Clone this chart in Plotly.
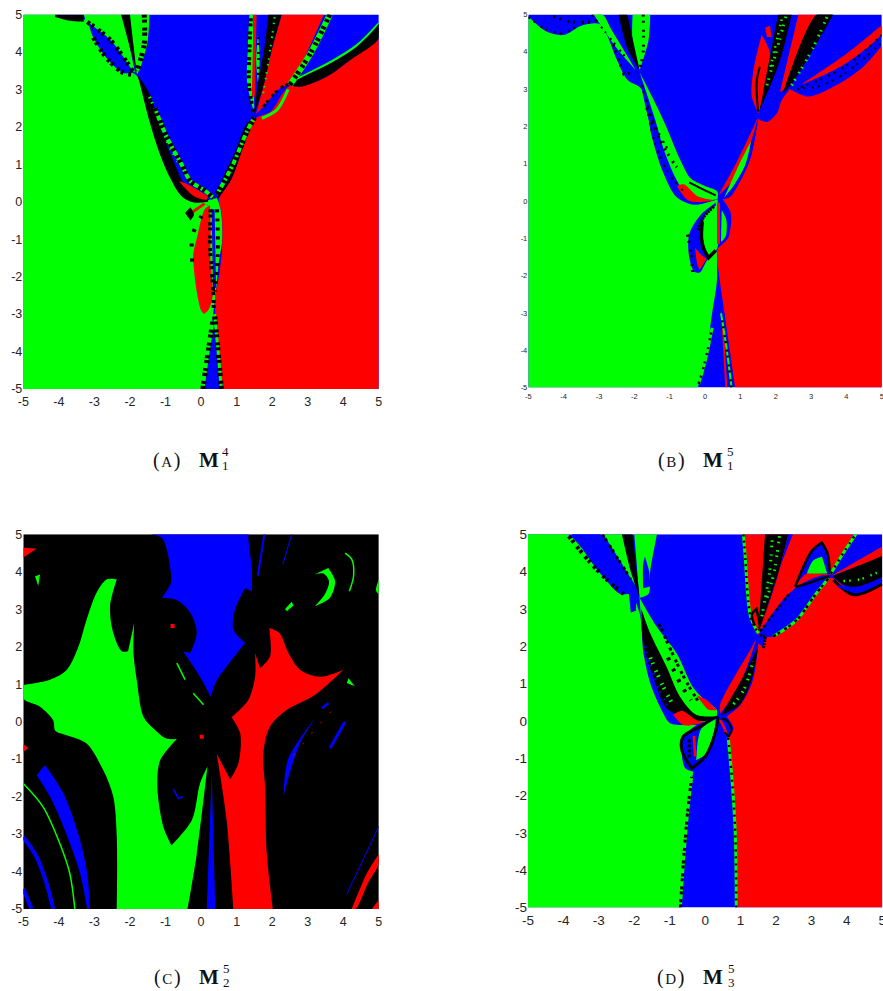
import math
import plotly.graph_objects as go

TICK_VALUES = [-5, -4, -3, -2, -1, 0, 1, 2, 3, 4, 5]
TICK_LABELS = ["-5", "-4", "-3", "-2", "-1", "0", "1", "2", "3", "4", "5"]
FULL = [(-5, -5), (5, -5), (5, 5), (-5, 5)]

# ---------- Panel A: region outlines (x, y in chart units)
A_GREEN = [(-5,-5),(0.03,-5),(0.2,-4),(0.34,-3),(0.42,-2.4),(0.5,-1.6),(0.6,-1),(0.55,-0.2),(0.45,0.1),(0.2,0.05),(-0.2,0.02),(-0.5,0.15),(-0.8,0.6),(-1.15,1.3),(-1.45,2.2),(-1.75,3.3),(-2,3.5),(-2.4,3.75),(-2.8,4.3),(-3.2,4.85),(-3.5,4.85),(-4.1,4.95),(-4,5),(-5,5)]
A_GREEN_UPPER = [(-3.3,5),(-2.2,5),(-1.85,3.45),(-2.5,3.9),(-3.2,4.75)]
A_BLUE_LENS = [(-3.17,4.78),(-2.56,4.33),(-2.04,3.66),(-1.9,3.45),(-2.19,3.44),(-2.66,3.84),(-3.03,4.38)]
A_RED = [(0.62,-5),(0.5,-4),(0.4,-3),(0.4,-2.5),(0.5,-2),(0.57,-1.5),(0.6,-1),(0.58,-0.3),(0.5,0.05),(0.85,0.6),(1.2,1.5),(1.5,2.2),(1.95,2.4),(2.3,2.9),(2.5,3.1),(2.78,3.07),(3.53,3.34),(4.19,3.78),(5,4.36),(5,-5)]
A_RED_WEDGE = [(1.55,2.35),(1.75,3.07),(1.99,4.05),(2.27,5),(3.45,5),(2.5,3.15),(2.22,3.03),(1.75,2.54)]
A_RED_LENS = [(-0.22,-1.4),(-0.1,-0.9),(0.1,-0.2),(0.25,-0.1),(0.27,-0.7),(0.26,-1.5),(0.33,-2.5),(0.2,-2.9),(0.08,-3),(0,-2.9),(-0.12,-2.4),(-0.2,-1.8)]
A_RED_TIP = [(-0.62,0.55),(-0.45,0.5),(0.2,0.15),(0.15,0.05),(-0.2,0.15)]
A_RED_THIN = [(-0.28,-0.3),(0.1,-0.05)]
A_RED_TOP = [(1.52,5),(1.47,2.8)]
A_GREEN_TOP = [(-2.15,5),(-1.45,5),(-1.5,4.3),(-1.7,3.6),(-1.8,3.4),(-2,4.2)]
A_BLACK_TOP = [(-2.25,5),(-2.0,5),(-1.8,3.4),(-2.05,4.3)]
A_BLACK_RIGHT = [(1.89,5),(2.27,5),(1.99,4.05),(1.75,3.07),(1.51,2.36),(1.56,2.9),(1.8,4.23)]
A_BLACK_ARC = [(-1.8,3.4),(-1.45,2.9),(-1.15,2),(-0.8,1.15),(-0.55,0.6),(-0.25,0.2),(0.2,0.08),(0.2,0),(-0.2,-0.02),(-0.55,0.15),(-0.85,0.6),(-1.15,1.25),(-1.45,2.15),(-1.75,3.25)]
A_BLACK_UP = [(0.45,0.05),(0.85,0.6),(1.2,1.5),(1.5,2.2),(1.3,2.1),(0.95,1.3),(0.65,0.7)]
A_BLUE_STRIPE = [(0.34,-0.2),(0.38,-2.3)]
A_GREEN_BAND1 = [(1.36,5),(1.32,4.2),(1.3,3.16),(1.5,2.36),(1.47,5)]
A_GREEN_BAND2 = [(1.6,4.45),(1.65,3.8),(1.6,3.15),(1.55,3.8)]
A_SPECK1 = [(1.4,4.9),(1.36,4),(1.35,3.1),(1.47,2.4)]
A_SPECK2 = [(-3.2,4.8),(-2.56,4.33),(-2.04,3.66),(-1.9,3.45)]
A_SPECK3 = [(-3.03,4.38),(-2.66,3.84),(-2.19,3.44),(-1.9,3.4)]
A_SPECK4 = [(-1.6,5),(-1.6,4.2),(-1.8,3.5)]
A_SPECK5 = [(-1.3,2.5),(-0.95,1.7),(-0.55,1),(-0.3,0.55),(0.1,0.3),(0.35,0.1)]
A_SPECK6 = [(0.05,-5),(0.2,-4),(0.33,-3.2)]
A_SPECK7 = [(0.57,-5),(0.48,-4),(0.38,-3)]
A_SPECK8 = [(0.27,-0.2),(0.25,-1.2),(0.33,-2.2),(0.36,-2.9)]
A_SPECK9 = [(-0.25,-1.6),(-0.24,-0.9),(0,-0.4),(0.2,-0.1)]
A_SPECK10 = [(0.45,-0.2),(0.47,-1.4),(0.38,-2.4)]
A_SPECK11 = [(0.45,0.2),(0.9,1),(1.3,1.9),(1.5,2.25)]
A_SPECK12 = [(3.62,5),(3.1,4),(2.5,3.12)]
A_SPECK13 = [(1.75,2.54),(2.22,3.03),(2.5,3.15)]
A_SPECK14 = [(1.61,4.4),(1.62,3.8),(1.61,3.16)]
A_LENS_LOW = [(1.71,2.23),(2.13,2.45),(2.45,3)]
A_BLACK_BAND = [(2.5,3.12),(2.78,3.07),(3.53,3.34),(4.19,3.78),(5,4.36),(5,4.75),(4.9,4.63),(4.38,4.14),(3.72,3.74),(2.69,3.25)]
A_BLACK_BLOB = [(-0.45,-0.3),(-0.3,-0.15),(-0.2,-0.35),(-0.3,-0.5)]
A_BLACK_TOPLEFT = [(-4.1,5),(-3.3,5),(-3.3,4.8),(-3.7,4.83),(-4.1,4.93)]
A_GREEN_EDGE = [(2.69,3.27),(3.72,3.77),(4.38,4.17),(5,4.76)]
A_DOTS_GREEN = [(-1.45,2.8),(-1.15,2.1),(-0.9,1.5),(-0.6,1.0)]
A_DOTS_BAND = [(1.75,2.9),(1.95,4.1),(2.08,5)]

# ---------- Panel B
B_GREEN = [(-5,-5),(-0.2,-5),(0.05,-4),(0.2,-3),(0.33,-2.2),(0.35,-1.3),(0.42,-0.5),(0.35,0.05),(-0.3,-0.1),(-0.8,0.1),(-1.2,0.8),(-1.5,1.7),(-1.8,3),(-2.2,3.25),(-2.5,3.8),(-2.8,4.5),(-3,4.75),(-3.5,4.7),(-4,4.45),(-4.5,4.55),(-5,4.95)]
B_RED = [(0.85,-5),(0.7,-4),(0.55,-3),(0.4,-2),(0.35,-1.3),(0.55,-1.1),(0.72,-0.7),(0.72,-0.3),(0.5,0.05),(0.7,0.1),(1,0.55),(1.3,1.2),(1.5,2.2),(1.75,2.12),(2.03,2.35),(2.17,2.7),(2.4,3),(2.92,2.8),(3.72,3.11),(4.48,3.6),(5,4.16),(5,-5)]
B_GREEN_BAND = [(-1.85,3.45),(-1.5,2.8),(-1.1,2),(-0.7,1.1),(-0.4,0.6),(0,0.4),(0.35,0.25),(0.35,0.05),(-0.3,0.02),(-0.7,0.4),(-1.1,1.2),(-1.45,2.3)]
B_BLUE_BAND = [(-1.85,3.3),(-1.6,2.2),(-1.25,1.1),(-0.85,0.2),(-0.65,0.15),(-1,0.9),(-1.4,2),(-1.7,3)]
B_RED_LEFT = [(-0.8,0.4),(-0.6,0.45),(-0.2,0.12),(0.3,0.02),(-0.2,-0.03),(-0.5,0.03)]
B_FLOWER_BLUE = [(0.3,-0.05),(-0.15,-0.4),(-0.45,-0.9),(-0.45,-1.5),(-0.3,-1.9),(-0.15,-1.92),(0.05,-1.6),(0.35,-1.3)]
B_FLOWER_GREEN = [(0.33,-0.1),(0,-0.4),(-0.1,-0.9),(-0.03,-1.3),(0.12,-1.55),(0.35,-1.25),(0.38,-0.6)]
B_FLOWER_RED = [(-0.28,-1.25),(-0.22,-1.7),(-0.15,-1.85),(0.05,-1.55),(-0.1,-1.45)]
B_ARC = [(-0.08,-0.55),(-0.1,-1),(-0.03,-1.3),(0.1,-1.52),(0.3,-1.33)]
B_ARC2 = [(0.25,-0.15),(-0.05,-0.45),(-0.2,-0.8)]
B_RLOOP_BLUE = [(0.4,-0.05),(0.62,-0.2),(0.72,-0.55),(0.65,-1),(0.4,-1.2)]
B_RLOOP_GREEN = [(0.47,-0.25),(0.6,-0.5),(0.58,-0.95),(0.45,-1.1)]
B_RED_STRIPE = [(0.38,-0.05),(0.38,-1.15)]
B_RED_CENTER = [(0.38,0.15),(0.9,1.05),(1.5,2.25),(1.2,1.3),(0.75,0.5)]
B_GREEN_CENTER = [(0.55,0.1),(0.95,0.95),(1.3,1.6),(1.15,1),(0.8,0.4)]
B_BLUE_CENTER = [(0.65,0.15),(1.05,0.75),(1.35,1.55),(1.5,2.2),(1.3,1.2),(1,0.55)]
B_SPECK1 = [(-1.65,2.5),(-1.4,1.5),(-1,0.7),(-0.6,0.25)]
B_SPECK2 = [(-1.8,3.1),(-1.4,2),(-1,1.3)]
B_SPECK3 = [(-1.65,2.5),(-1.2,1.5),(-0.8,0.9)]
B_BLACK_DASH = [(-0.45,0.5),(-0.1,0.33),(0.3,0.15)]
B_RED_LENS = [(1.51,2.35),(1.32,2.8),(1.37,3.51),(1.6,4.45),(1.84,3.96),(1.65,2.8)]
B_LENS_BLACK = [(1.5,2.4),(1.46,3.2),(1.55,3.6)]
B_RED_SMALL = [(1.7,4.65),(1.84,4.7),(1.88,4.4),(1.75,4.4)]
B_BAND_UP = [(1.55,2.45),(2.07,5),(2.45,5),(2.1,3.7)]
B_GREEN_IN_BAND = [(1.75,3.1),(2.1,4.3),(2.3,5)]
B_GREEN_IN_BAND2 = [(1.85,3.6),(2.05,4.4),(2.2,5)]
B_RED_WEDGE = [(2.12,2.93),(2.64,5),(3.16,5),(2.21,2.97)]
B_BAND_RIGHT = [(2.21,2.9),(3.16,5),(3.63,5),(2.5,3.2)]
B_GREEN_IN_RIGHT = [(2.45,3.1),(3.05,4.1),(3.48,5)]
B_RED_STRIPE2 = [(2.69,3.11),(4,3.95),(5,4.72),(5,4.5),(4,3.7),(3.25,3.33)]
B_BLACK_FAR1 = [(2.7,3.05),(3.25,3.25),(4,3.63),(5,4.45)]
B_BLACK_FAR2 = [(2.6,3.0),(3.3,3.1),(4,3.45),(5,4.25)]
B_TOP_GREEN_L = [(-3.15,5),(-2.9,5),(-2.65,4.6),(-1.95,3.5),(-2.5,4.1)]
B_TOP_GREEN_M = [(-2.05,5),(-1.55,5),(-1.6,4.3),(-1.85,3.5),(-2.05,4.3)]
B_TOP_BLACK = [(-2.45,5),(-2.2,5),(-1.85,3.5),(-2.2,4.1)]
B_SPECK6 = [(-5,4.93),(-4.5,4.6),(-4,4.5),(-3.6,4.7)]
B_SPECK7 = [(-4.3,4.95),(-3.8,4.8),(-3.2,4.8)]
B_SPECK8 = [(-3.2,5),(-2.8,4.5),(-2.2,3.8)]
B_SPECK9 = [(-1.75,5),(-1.75,4),(-1.85,3.5)]
B_SPECK10 = [(-2.6,4.2),(-2.3,3.4),(-1.9,3.45)]
B_SPECK11 = [(-0.18,-4.9),(0.0,-4.3),(0.2,-3.4)]
B_SPECK12 = [(0.75,-5),(0.6,-3.9),(0.45,-3)]
B_SPECK13 = [(-0.5,-0.9),(-0.4,-1.4),(-0.35,-2)]
B_RED_BOTTOM = [(0.6,-5),(0.5,-3.3)]

# ---------- Panel C
C_BLUE = [(-1.45,5),(-1.1,4.9),(-0.85,4),(-0.85,3.7),(-1.1,3.3),(-0.7,3.25),(-0.3,2.9),(-0.12,2.37),(-0.3,1.83),(-0.5,1.87),(-0.03,1.2),(0.27,0.67),(0.44,1.1),(0.72,1.47),(1.24,2.1),(0.91,2.45),(0.96,3),(1.24,3.57),(1.43,3.48),(1.43,4.06),(1.33,4.95),(1.35,5)]
C_GREEN = [(-2.37,3.8),(-2.65,3.8),(-2.94,3.44),(-3.22,2.72),(-3.45,2),(-3.78,1.38),(-4.25,1.12),(-5,0.98),(-5,0.62),(-4.53,0.4),(-4.16,0.04),(-4.1,-0.24),(-3.78,-0.36),(-3.22,-0.58),(-2.75,-1.3),(-2.47,-2),(-2.37,-3.08),(-2.37,-5),(-0.38,-5),(-0.12,-3.53),(0.18,-1.2),(-0.03,-1.65),(-0.26,-2.63),(-0.83,-3.3),(-1.06,-2.81),(-1.23,-1.74),(-1.15,-1.03),(-0.68,-0.46),(-0.97,-0.45),(-1.34,-0.18),(-1.62,0.13),(-1.81,1.12),(-1.9,1.83),(-1.88,2.63),(-2.05,1.88),(-2.23,1.88),(-2.47,2.37),(-2.56,3.08)]
C_RED = [(0.91,-5),(2.02,-5),(1.85,-3.53),(1.8,-1.74),(1.75,-0.85),(1.94,-0.13),(2.41,0.31),(3.2,0.71),(4,1.38),(3.35,1.2),(2.79,1.38),(2.46,1.83),(2.2,2.37),(1.92,2.5),(1.94,1.74),(1.66,1.43),(1.52,1.83),(1.52,1.2),(1.33,0.58),(0.86,0.12),(1.1,-0.31),(1.05,-1.12),(0.82,-1.54),(0.44,-0.85),(0.72,-2.63)]
C_BLUE_SLIVER = [(0.16,-5),(0.4,-5),(0.3,-1.38)]
C_BLUE_LEFT = [(-4.62,-1.43),(-4.39,-1.16),(-3.87,-1.92),(-3.4,-3.17),(-3.2,-4.06),(-3.12,-5),(-3.2,-5),(-3.4,-4.06),(-3.83,-2.9),(-4.25,-2)]
C_GREEN_LINE = [(-5,-1.65),(-4.44,-2.28),(-3.97,-3.26),(-3.69,-4.06),(-3.55,-5)]
C_BLUE_LINE1 = [(-5,-3.08),(-4.62,-3.62),(-4.34,-4.33),(-4.16,-5)]
C_BLUE_LINE2 = [(-5,-4.46),(-4.77,-5)]
C_RED_TL = [(-5,4.64),(-4.62,4.62),(-5,4.38)]
C_GREEN_TL = [(-4.67,3.88),(-4.53,3.93),(-4.58,3.62)]
C_RED_L = [(-5,-0.6),(-4.85,-0.7),(-5,-0.8)]
C_RED_DOTS_X = [-0.8, 0.02]
C_RED_DOTS_Y = [2.55, -0.4]
C_GREEN_S1 = [(-0.68,1.56),(-0.45,1.12)]
C_GREEN_S2 = [(-0.22,0.76),(0.07,0.45)]
C_BLUE_CURL = [(-0.78,-1.79),(-0.64,-2.05),(-0.5,-2)]
C_GREEN_CRES = [(3.2,3.08),(3.62,3.3),(3.77,3.75),(3.58,4.1),(3.2,3.93),(3.45,3.95),(3.6,3.75),(3.48,3.4)]
C_GREEN_SPOT = [(2.36,3),(2.55,3.2),(2.6,3.1),(2.42,2.95)]
C_GREEN_R = [(4.05,4.5),(4.24,4.33),(4.29,3.88),(4.17,3.48)]
C_GREEN_R2 = [(4.1,1.03),(4.15,1.16),(4.33,0.94)]
C_GREEN_EDGE = [(5,3.4),(4.92,3.5),(5,3.8)]
C_BLUE_R1 = [(2.32,-2),(2.45,-1),(3.2,0.09),(2.8,-0.55),(2.55,-1.2)]
C_BLUE_R2 = [(3.63,-0.71),(4.05,0)]
C_BLUE_R3 = [(3.4,0.36),(3.58,0.49)]
C_RED_BR = [(4.24,-5),(4.66,-4.06),(5,-3.53),(5,-3.8),(4.7,-4.3),(4.35,-5)]
C_RED_CORNER = [(4.8,-5),(5,-4.75),(5,-5)]
C_BLUE_THIN = [(4.1,-4.6),(4.6,-3.6),(5,-2.8)]
C_BLUE_TOP1 = [(1.78,5),(1.6,3.9)]
C_BLUE_TOP2 = [(2.55,5),(2.3,4.2)]
C_RED_THIN = [(2.6,-0.9),(3.3,-0.1),(3.9,0.5)]

# ---------- Panel D
D_GREEN = [(-5,-5),(-0.7,-5),(-0.61,-3.55),(-0.47,-2.03),(-0.33,-1.36),(-0.56,-1.27),(-0.66,-0.78),(-0.52,-0.33),(-0.24,-0.11),(-0.62,-0.11),(-0.99,-0.06),(-1.18,0.2),(-1.55,1.01),(-1.74,1.81),(-1.85,2.89),(-2.1,3.38),(-2.4,3.4),(-2.96,3.95),(-3.9,5),(-5,5)]
D_RED = [(0.94,-5),(0.85,-2.65),(0.75,-1.58),(0.66,-0.42),(0.8,-0.2),(0.61,0.12),(1,0.43),(1.35,1.1),(1.5,2.08),(1.65,1.95),(1.74,2.26),(2.58,2.7),(3.1,3.37),(3.48,3.82),(3.62,3.82),(4.27,3.38),(5,3.67),(5,-5)]
D_RED_UP = [(1.5,2.3),(1.32,2.7),(1.13,4.49),(1.08,5),(4.18,5),(3.52,3.91),(3.3,3.9),(2.6,3.6),(2,3)]
D_BLUE_HUMP = [(2.54,3.6),(3,4.54),(3.29,4.78),(3.45,4.5),(3.52,3.91),(2.87,3.95)]
D_HUMP_GREEN = [(2.87,3.95),(3.05,4.3),(3.3,4.4),(3.45,3.95)]
D_BLUE_LENS = [(1.5,2.3),(2.39,3.43),(3,3.62),(3.48,3.82),(3.1,3.37),(2.58,2.7),(1.92,2.26)]
D_BLACK_UP = [(1.5,2.35),(1.69,5),(2.35,5),(2.05,3.9)]
D_BLUE_UPEDGE = [(2.35,5),(2.05,3.9),(1.55,2.4),(2.15,4.2),(2.48,5)]
D_GREEN_UP1 = [(1.6,2.8),(1.82,4),(1.9,5)]
D_GREEN_UP2 = [(1.75,3.3),(1.95,4),(2.1,5)]
D_RED_FAR = [(3.55,3.88),(5,4.67),(5,4.4)]
D_BLACK_FAR = [(3.6,3.88),(5,4.42),(5,3.85),(4.3,3.6),(3.9,3.65)]
D_GREEN_FAR = [(3.9,3.75),(4.4,3.8),(5,4.05)]
D_BLUE_FAR = [(3.75,3.62),(4.3,3.48),(5,3.78)]
D_BLACK_LOW = [(3.62,3.78),(4.2,3.38),(5,3.67)]
D_BLUE_TL = [(-3.76,5),(-2.96,5),(-2.07,3.69),(-2.3,3.47)]
D_GREEN_TL = [(-2.87,5),(-2.3,5),(-1.95,3.6)]
D_BLACK_TL = [(-2.35,5),(-2.05,5),(-1.85,3.3),(-2.1,4)]
D_GREEN_TM = [(-2,5),(-1.36,5),(-1.55,4),(-1.6,3.4),(-1.85,3.3)]
D_BLUE_TM = [(-1.75,4.2),(-1.7,4.4),(-1.58,4),(-1.55,3.6),(-1.75,3.55)]
D_BLUE_SMALL = [(-2.15,3.4),(-1.95,3.4),(-1.95,2.95),(-2.1,2.9)]
D_GREEN_BAND = [(-1.85,3.3),(-1.35,2.5),(-0.8,1.8),(-0.33,0.88),(0,0.55),(0.33,0.29),(0.3,0),(-0.2,-0.02),(-0.6,0.1),(-1,0.6),(-1.4,1.4),(-1.75,2.4)]
D_BLACK_ARC = [(-1.8,3.0),(-1.55,2.35),(-1.09,1.45),(-0.71,0.65),(-0.24,0.16),(0.3,0.12),(0.2,0.03),(-0.24,0.0),(-0.7,0.15),(-1.09,0.34),(-1.47,1.18),(-1.75,2.08)]
D_GREEN_IN_ARC = [(-1.55,1.7),(-1.2,0.95),(-0.95,0.5)]
D_BLUE_IN_ARC = [(-1.7,2),(-1.4,1.1),(-1.05,0.35)]
D_RED_A = [(-0.9,0.16),(-0.66,0.27),(-0.24,0.02),(0,-0.02),(-0.24,-0.09),(-0.62,-0.11)]
D_RED_B = [(-0.24,0.69),(0.04,0.56),(0.33,0.29),(0.1,0.3),(-0.1,0.5)]
D_RED_C = [(0.42,0.2),(0.42,0.43),(1.27,1.9),(1.45,2.2),(1.07,1.18),(0.65,0.48)]
D_BLACK_C = [(0.45,0.15),(0.98,0.43),(1.31,1.1),(1.5,2),(1.07,1.18),(0.65,0.48)]
D_GREEN_C = [(0.8,0.45),(1.1,0.85),(1.35,1.6)]
D_BLUE_LOOP = [(0.34,0.1),(-0.15,-0.16),(-0.62,-0.42),(-0.66,-0.78),(-0.38,-1.27),(0,-0.96),(0.28,-0.33)]
D_GREEN_LOOP = [(0.3,0.05),(-0.1,-0.2),(-0.2,-0.5),(-0.25,-1.05),(0,-0.9),(0.25,-0.3)]
D_RED_LOOP = [(-0.32,-0.4),(-0.28,-0.95)]
D_BLUE_PETAL = [(0.4,0.05),(0.6,0.02),(0.75,-0.24),(0.66,-0.42),(0.42,-0.15)]
D_RED_PETAL = [(0.42,0.02),(0.52,-0.15),(0.6,-0.35)]
D_LOOP_LINE = [(0.34,0.1),(-0.15,-0.16),(-0.62,-0.42),(-0.66,-0.78),(-0.38,-1.27),(0,-0.96),(0.28,-0.33),(0.34,0.1)]
D_LOOP_IN = [(-0.45,-0.5),(-0.45,-1)]
D_PETAL_LINE = [(0.45,0.05),(0.6,0.02),(0.75,-0.24),(0.66,-0.42),(0.55,-0.3)]
D_SPECK1 = [(-3.85,4.95),(-3.3,4.3),(-2.8,3.8),(-2.3,3.4)]
D_SPECK2 = [(-2.9,5),(-2.5,4.4),(-2.1,3.8)]
D_SPECK3 = [(-0.7,-5),(-0.6,-3.6),(-0.48,-2.3),(-0.38,-1.5)]
D_SPECK4 = [(0.88,-5),(0.85,-3),(0.76,-1.6),(0.65,-0.45)]
D_SPECK5 = [(1.08,5),(1.13,4.4),(1.28,2.8),(1.5,2.35)]
D_SPECK8 = [(-1.3,2.6),(-0.8,1.55),(-0.5,1),(-0.15,0.45)]
D_SPECK9 = [(-1.05,1.7),(-0.7,1),(-0.4,0.55)]
D_SPECK12 = [(1.92,2.26),(2.58,2.7),(3.1,3.37),(3.48,3.82)]
D_SPECK13 = [(1.55,2.4),(2.39,3.43)]
D_LINE_LENS = [(2.54,3.58),(3,3.72),(3.5,3.88)]
D_SPECK14 = [(2.54,3.6),(3,4.54),(3.29,4.78),(3.45,4.5),(3.52,3.95)]
D_SPECK16 = [(3.55,3.95),(3.9,4.5),(4.25,5)]
D_SPECK17 = [(1.4,2.55),(1.32,2.85),(1.45,3),(1.55,2.55)]
D_SPECK18 = [(1.55,2.3),(1.7,2.25),(1.65,1.95)]

GREEN, RED, BLUE, BLACK = "#00ff00", "#ff0000", "#0000ff", "#000000"
THICK_SPECK = "3px,2px,3px,5px"
FINE_SPECK = "2px,4px,2px,7px"
SEED = "1.5px,4px,1.5px,7px"

# panel axes placed in window pixels: left, right, top, bottom, tick size
PANELS = {
    "A": (23.3, 378.8, 14.5, 389, 12.5),
    "B": (528.3, 881.8, 14.5, 387.5, 7.5),
    "C": (23.3, 378.8, 534.3, 909, 12.5),
    "D": (528, 882.3, 534.3, 907.5, 13.5),
}

def F(pts, color):
    return ("fill", pts, color, 0, None)

def L(pts, color, width, dash=None):
    return ("line", pts, color, width, dash)

LAYERS = {
    "A": [F(FULL, BLUE), F(A_GREEN, GREEN), F(A_GREEN_UPPER, GREEN), F(A_BLUE_LENS, BLUE), F(A_RED, RED), F(A_RED_WEDGE, RED), F(A_GREEN_TOP, GREEN),
          F(A_BLACK_TOP, BLACK), F(A_RED_LENS, RED), F(A_GREEN_BAND1, GREEN), F(A_GREEN_BAND2, GREEN), F(A_BLACK_RIGHT, BLACK),
          L(A_DOTS_BAND, GREEN, 2, SEED),
          L(A_RED_TOP, RED, 3), F(A_BLACK_ARC, BLACK), F(A_BLACK_UP, BLACK), F(A_RED_TIP, RED), L(A_RED_THIN, RED, 3),
          L(A_BLUE_STRIPE, BLUE, 3), L(A_GREEN_EDGE, GREEN, 2.5), F(A_BLACK_BAND, BLACK), F(A_BLACK_BLOB, BLACK),
          F(A_BLACK_TOPLEFT, BLACK), L(A_DOTS_GREEN, GREEN, 3, SEED),
          L(A_SPECK1, BLACK, 4, THICK_SPECK), L(A_SPECK2, BLACK, 4.5, THICK_SPECK), L(A_SPECK3, BLACK, 4.5, THICK_SPECK),
          L(A_SPECK4, BLACK, 5, THICK_SPECK), L(A_SPECK5, GREEN, 4), L(A_SPECK5, BLACK, 5, THICK_SPECK),
          L(A_SPECK6, GREEN, 3), L(A_SPECK6, BLACK, 5, THICK_SPECK), L(A_SPECK7, GREEN, 3), L(A_SPECK7, BLACK, 5, THICK_SPECK),
          L(A_SPECK8, BLACK, 4, THICK_SPECK), L(A_SPECK9, BLACK, 4, "3px,12px"), L(A_SPECK10, BLACK, 4, "3px,6px"),
          L(A_SPECK11, GREEN, 4), L(A_SPECK11, BLACK, 5.5, THICK_SPECK), L(A_SPECK12, GREEN, 6), L(A_SPECK12, BLACK, 5, THICK_SPECK),
          L(A_SPECK13, BLACK, 3, THICK_SPECK), L(A_LENS_LOW, GREEN, 3), L(A_SPECK14, BLACK, 3, FINE_SPECK)],
    "B": [F(FULL, BLUE), F(B_GREEN, GREEN), F(B_RED, RED), F(B_BLUE_BAND, BLUE), F(B_GREEN_BAND, GREEN), F(B_RED_LEFT, RED),
          F(B_FLOWER_BLUE, BLUE), F(B_FLOWER_RED, RED), F(B_FLOWER_GREEN, GREEN), L(B_ARC, BLACK, 3.5), L(B_ARC2, BLACK, 3, "2px,1px"),
          F(B_RLOOP_BLUE, BLUE), F(B_RLOOP_GREEN, GREEN), L(B_RED_STRIPE, RED, 3), L(B_RED_BOTTOM, RED, 2),
          F(B_BLUE_CENTER, BLUE), F(B_RED_CENTER, RED), F(B_GREEN_CENTER, GREEN), F(B_RED_LENS, RED), L(B_LENS_BLACK, BLACK, 2),
          F(B_RED_SMALL, RED), F(B_RED_WEDGE, RED), F(B_BAND_UP, BLACK), L(B_GREEN_IN_BAND, GREEN, 3, SEED), L(B_GREEN_IN_BAND2, GREEN, 2.5, SEED),
          F(B_BAND_RIGHT, BLACK), L(B_GREEN_IN_RIGHT, GREEN, 3, SEED), F(B_RED_STRIPE2, RED),
          F(B_TOP_GREEN_L, GREEN), F(B_TOP_GREEN_M, GREEN), F(B_TOP_BLACK, BLACK),
          L(B_SPECK1, BLACK, 2, FINE_SPECK), L(B_SPECK2, BLACK, 2, FINE_SPECK), L(B_SPECK3, BLACK, 3, FINE_SPECK), L(B_BLACK_DASH, BLACK, 2),
          L(B_BLACK_FAR1, BLACK, 2, FINE_SPECK), L(B_BLACK_FAR2, BLACK, 2, FINE_SPECK), L(B_SPECK6, BLACK, 2, FINE_SPECK), L(B_SPECK7, BLACK, 3, FINE_SPECK),
          L(B_SPECK8, BLACK, 2, FINE_SPECK), L(B_SPECK9, BLACK, 3, FINE_SPECK), L(B_SPECK10, BLACK, 3, FINE_SPECK), L(B_SPECK11, GREEN, 3), L(B_SPECK11, BLACK, 2.5, FINE_SPECK),
          L(B_SPECK12, GREEN, 2), L(B_SPECK12, BLACK, 2.5, FINE_SPECK), L(B_SPECK13, BLACK, 3, FINE_SPECK)],
    "C": [F(FULL, BLACK), F(C_BLUE, BLUE), F(C_GREEN, GREEN), F(C_RED, RED), F(C_BLUE_SLIVER, BLUE), F(C_BLUE_LEFT, BLUE),
          L(C_GREEN_LINE, GREEN, 1.5), L(C_BLUE_LINE1, BLUE, 4), L(C_BLUE_LINE2, BLUE, 4), F(C_RED_TL, RED), F(C_GREEN_TL, GREEN), F(C_RED_L, RED),
          L(C_GREEN_S1, GREEN, 1.5), L(C_GREEN_S2, GREEN, 1.5), L(C_BLUE_CURL, BLUE, 1.5), F(C_GREEN_CRES, GREEN), F(C_GREEN_SPOT, GREEN),
          L(C_GREEN_R, GREEN, 1.5), F(C_GREEN_R2, GREEN), F(C_GREEN_EDGE, GREEN), F(C_BLUE_R1, BLUE), L(C_BLUE_R2, BLUE, 3), L(C_BLUE_R3, BLUE, 2.5),
          F(C_RED_BR, RED), F(C_RED_CORNER, RED), L(C_BLUE_THIN, BLUE, 1), L(C_BLUE_TOP1, BLUE, 2), L(C_BLUE_TOP2, BLUE, 1), L(C_RED_THIN, RED, 1, "2px,12px")],
    "D": [F(FULL, BLUE), F(D_GREEN, GREEN), F(D_RED, RED), F(D_RED_UP, RED), F(D_BLUE_HUMP, BLUE), F(D_HUMP_GREEN, GREEN), F(D_BLUE_LENS, BLUE),
          F(D_BLACK_UP, BLACK), L(D_GREEN_UP1, GREEN, 3, SEED), L(D_GREEN_UP2, GREEN, 3, SEED), F(D_BLUE_UPEDGE, BLUE),
          F(D_RED_FAR, RED), F(D_BLACK_FAR, BLACK), L(D_GREEN_FAR, GREEN, 2.5, SEED), L(D_BLACK_LOW, BLACK, 3), L(D_BLUE_FAR, BLUE, 2.5),
          F(D_BLUE_TL, BLUE), F(D_GREEN_TL, GREEN), F(D_GREEN_TM, GREEN), F(D_BLACK_TL, BLACK), F(D_BLUE_TM, BLUE), F(D_BLUE_SMALL, BLUE),
          F(D_GREEN_BAND, GREEN), F(D_BLACK_ARC, BLACK), L(D_GREEN_IN_ARC, GREEN, 4, SEED), L(D_BLUE_IN_ARC, BLUE, 3, SEED),
          F(D_RED_A, RED), F(D_RED_B, RED), F(D_RED_C, RED), F(D_BLACK_C, BLACK), L(D_GREEN_C, GREEN, 3, SEED),
          F(D_BLUE_LOOP, BLUE), F(D_GREEN_LOOP, GREEN), L(D_RED_LOOP, RED, 2.5), F(D_BLUE_PETAL, BLUE), L(D_RED_PETAL, RED, 2.5),
          L(D_LOOP_LINE, BLACK, 3), L(D_LOOP_IN, BLACK, 3, "3px,2px"), L(D_PETAL_LINE, BLACK, 2),
          L(D_SPECK1, BLACK, 4, THICK_SPECK), L(D_SPECK2, BLACK, 3, THICK_SPECK), L(D_SPECK3, GREEN, 3), L(D_SPECK3, BLACK, 3, THICK_SPECK),
          L(D_SPECK4, GREEN, 3), L(D_SPECK4, BLACK, 2.5, "2px,5px"), L(D_SPECK5, GREEN, 3), L(D_SPECK5, BLACK, 2.5, "2px,4px"),
          L(D_SPECK8, BLACK, 3, THICK_SPECK), L(D_SPECK9, BLACK, 4, "3px,9px"),
          L(D_SPECK12, GREEN, 3), L(D_SPECK12, BLACK, 2.5, THICK_SPECK),
          L(D_SPECK13, BLACK, 2.5, THICK_SPECK), L(D_LINE_LENS, BLACK, 2.5), L(D_SPECK14, BLACK, 2.5),
          L(D_SPECK16, GREEN, 3), L(D_SPECK16, BLACK, 2.5, "2px,5px"), L(D_SPECK17, BLACK, 2.5), L(D_SPECK18, BLACK, 3, "2px,1px")],
}


def sharpen(pts, closed):
    """Repeat the vertices where the outline turns hard, so the library's spline keeps them as corners."""
    out = []
    n = len(pts)
    for i, p in enumerate(pts):
        out.append(p)
        if not closed and i in (0, n - 1):
            continue
        a = pts[(i - 1) % n]
        b = pts[(i + 1) % n]
        u = (p[0] - a[0], p[1] - a[1])
        v = (b[0] - p[0], b[1] - p[1])
        cosv = (u[0] * v[0] + u[1] * v[1]) / (math.hypot(*u) * math.hypot(*v) + 1e-9)
        if cosv < 0.35:
            out.append(p)
    return out


W, H = 883, 991
LAYOUT_W = 900  # a little wider so that the last tick label can run off the window edge
fig = go.Figure()
layout = dict(width=LAYOUT_W, height=H, margin=dict(l=0, r=0, t=0, b=0), paper_bgcolor="white", plot_bgcolor="white",
              showlegend=False, hovermode=False)

for idx, (key, (l, r, t, b, size)) in enumerate(PANELS.items()):
    suf = "" if idx == 0 else str(idx + 1)
    tick = dict(family="Liberation Sans Narrow, Liberation Sans, Arial", size=size, color="#262626")
    axis = dict(range=[-5, 5], tickmode="array", tickvals=TICK_VALUES, ticktext=TICK_LABELS, showgrid=False,
                zeroline=False, showline=False, ticks="", tickfont=tick, fixedrange=True, automargin=False)
    layout["xaxis" + suf] = dict(axis, domain=[l / LAYOUT_W, r / LAYOUT_W], anchor="y" + suf, ticklabelstandoff=3)
    layout["yaxis" + suf] = dict(axis, domain=[1 - b / H, 1 - t / H], anchor="x" + suf)
    for kind, pts, color, width, dash in LAYERS[key]:
        if kind == "fill":
            rect = pts is FULL
            src = pts if rect else sharpen(pts, True)
            xs = [p[0] for p in src] + [src[0][0]]
            ys = [p[1] for p in src] + [src[0][1]]
            fig.add_trace(go.Scatter(x=xs, y=ys, xaxis="x" + suf, yaxis="y" + suf, mode="lines", fill="toself",
                                     fillcolor=color,
                                     line=dict(width=0, color=color, shape="linear" if rect else "spline", smoothing=0.9, simplify=False),
                                     hoverinfo="skip"))
        else:
            src = sharpen(pts, False)
            fig.add_trace(go.Scatter(x=[p[0] for p in src], y=[p[1] for p in src], xaxis="x" + suf, yaxis="y" + suf, mode="lines",
                                     line=dict(width=width, color=color, dash=dash or "solid", shape="spline", smoothing=0.9, simplify=False),
                                     hoverinfo="skip"))
    if key == "C":
        fig.add_trace(go.Scatter(x=C_RED_DOTS_X, y=C_RED_DOTS_Y, xaxis="x" + suf, yaxis="y" + suf, mode="markers",
                                 marker=dict(color=RED, size=4, symbol="square"), hoverinfo="skip"))

CAPTIONS = [
    ("A", "1", "4", 167, 208.5, 225.5, 460),
    ("B", "1", "5", 671, 712.5, 730.5, 460),
    ("C", "2", "5", 167, 208.5, 226, 977),
    ("D", "3", "5", 671, 713, 731, 977),
]
SERIF = "Liberation Serif, DejaVu Serif, serif"
notes = []
def note(text, px, py, size):
    notes.append(dict(text=text, x=px / LAYOUT_W, y=1 - py / H, xref="paper", yref="paper", showarrow=False,
                      xanchor="center", yanchor="middle", font=dict(family=SERIF, size=size, color="#111")))
for letter, sub, sup, cx, mx, sx, cy in CAPTIONS:
    note('(\u200a<span style="font-size:15px">%s</span>\u200a)' % letter, cx, cy, 20)
    note("<b>M</b>", mx, cy, 21)
    note(sup, sx, cy - 9, 13)
    note(sub, sx, cy + 5.5, 13)
layout["annotations"] = notes
fig.update_layout(**layout)
fig.write_html("out.html",
               post_script="document.documentElement.style.overflow='hidden';document.body.style.overflow='hidden';document.body.style.margin='0';",
               config={"displayModeBar": False})
